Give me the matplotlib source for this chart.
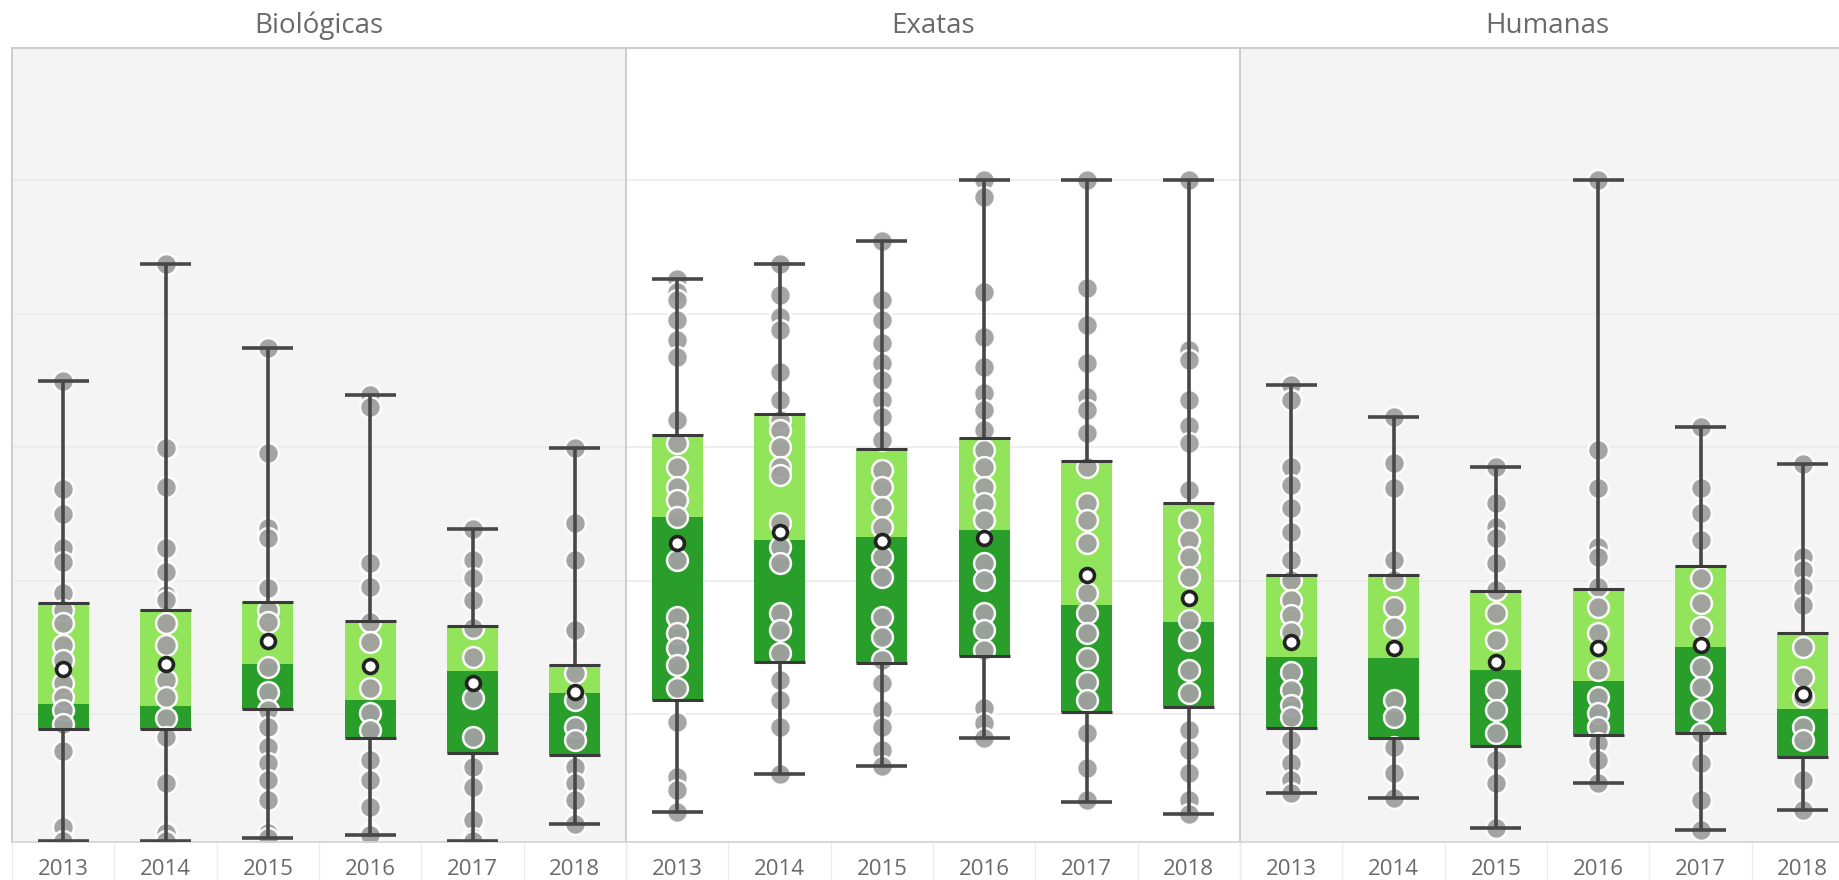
import numpy as np
import matplotlib
matplotlib.use('Agg')
import matplotlib.pyplot as plt

plt.rcParams['font.family'] = ['Open Sans', 'DejaVu Sans']

years = ['2013', '2014', '2015', '2016', '2017', '2018']
areas = ['Biológicas', 'Exatas', 'Humanas']

# box statistics per area (one value per year)
bio_low = [0.10, 0.10, 0.15, 0.19, 0.10, 0.36]
bio_q1 = [1.78, 1.78, 2.08, 1.65, 1.42, 1.39]
bio_med = [2.16, 2.13, 2.75, 2.22, 2.65, 2.32]
bio_q3 = [3.67, 3.56, 3.68, 3.40, 3.32, 2.74]
bio_high = [6.99, 8.74, 7.49, 6.78, 4.78, 5.99]
bio_mean = [2.68, 2.75, 3.10, 2.72, 2.47, 2.34]

exa_low = [0.54, 1.11, 1.23, 1.65, 0.69, 0.51]
exa_q1 = [2.22, 2.78, 2.77, 2.87, 2.04, 2.11]
exa_med = [4.96, 4.61, 4.66, 4.76, 3.64, 3.38]
exa_q3 = [6.18, 6.50, 5.97, 6.14, 5.79, 5.16]
exa_high = [8.52, 8.74, 9.09, 10.0, 10.0, 10.0]
exa_mean = [4.57, 4.73, 4.60, 4.64, 4.09, 3.74]

hum_low = [0.82, 0.75, 0.30, 0.97, 0.27, 0.57]
hum_q1 = [1.80, 1.65, 1.53, 1.69, 1.72, 1.36]
hum_med = [2.86, 2.84, 2.66, 2.50, 3.01, 2.08]
hum_q3 = [4.09, 4.09, 3.85, 3.88, 4.22, 3.22]
hum_high = [6.93, 6.45, 5.70, 10.0, 6.30, 5.75]
hum_mean = [3.08, 2.99, 2.79, 2.99, 3.04, 2.31]

# individual grades shown as grey dots
bio_points = [
    [6.99, 5.37, 5.0, 4.49, 4.28, 3.82, 3.56, 3.37, 3.04, 2.81, 2.47, 2.26, 2.07, 1.86, 1.45, 0.31, 0.10],
    [8.74, 5.99, 5.40, 4.49, 4.13, 3.79, 3.71, 3.37, 3.04, 2.51, 2.26, 1.95, 1.66, 0.97, 0.22, 0.10],
    [7.49, 5.91, 4.79, 4.64, 3.89, 3.56, 3.38, 2.71, 2.34, 2.07, 1.81, 1.51, 1.27, 1.02, 0.72, 0.22, 0.15],
    [6.78, 6.60, 4.27, 3.91, 3.38, 3.08, 2.40, 2.02, 1.77, 1.32, 1.02, 0.61, 0.22, 0.19],
    [4.78, 4.31, 4.04, 3.71, 3.29, 2.86, 2.25, 1.66, 1.21, 0.91, 0.42, 0.15, 0.10],
    [5.99, 4.87, 4.31, 3.26, 2.62, 2.22, 1.81, 1.62, 1.21, 0.97, 0.72, 0.36],
]
exa_points = [
    [8.52, 8.32, 8.20, 7.90, 7.60, 7.35, 6.41, 6.06, 5.70, 5.40, 5.21, 4.96, 4.31, 3.46, 3.22,
     2.99, 2.74, 2.40, 1.89, 1.06, 0.87, 0.54],
    [8.74, 8.28, 7.95, 7.75, 7.13, 6.71, 6.41, 6.26, 6.00, 5.70, 5.58, 4.87, 4.51, 4.27, 3.52,
     3.26, 2.92, 2.51, 2.22, 1.81, 1.11],
    [9.09, 8.20, 7.90, 7.56, 7.26, 7.01, 6.71, 6.45, 6.11, 5.66, 5.40, 5.10, 4.81, 4.36, 4.06,
     3.46, 3.16, 2.81, 2.47, 2.07, 1.81, 1.47, 1.23],
    [10.0, 9.75, 8.32, 7.65, 7.20, 6.81, 6.56, 6.26, 5.96, 5.70, 5.40, 5.16, 4.91, 4.27, 4.01,
     3.52, 3.26, 2.96, 2.10, 1.87, 1.65],
    [10.0, 8.38, 7.83, 7.26, 6.75, 6.56, 6.21, 5.70, 5.16, 4.91, 4.57, 3.82, 3.52, 3.22, 2.84,
     2.49, 2.22, 1.72, 1.20, 0.72],
    [10.0, 7.46, 7.31, 6.71, 6.31, 6.06, 5.36, 4.91, 4.61, 4.36, 4.06, 3.41, 3.11, 2.66, 2.32,
     1.77, 1.47, 1.12, 0.72, 0.51],
]
hum_points = [
    [6.93, 6.71, 5.70, 5.43, 5.09, 4.73, 4.31, 4.01, 3.71, 3.49, 3.23, 2.63, 2.37, 2.14, 1.96,
     1.62, 1.27, 1.02, 0.82],
    [6.45, 5.76, 5.39, 4.31, 4.01, 3.61, 3.31, 2.22, 1.96, 1.51, 1.12, 0.75],
    [5.70, 5.16, 4.81, 4.64, 4.27, 3.86, 3.52, 3.11, 2.37, 2.07, 1.72, 1.32, 0.97, 0.30],
    [10.0, 5.96, 5.39, 4.51, 4.36, 3.91, 3.61, 3.22, 2.66, 2.26, 2.02, 1.81, 1.57, 1.32, 0.97],
    [6.30, 5.39, 5.01, 4.61, 4.04, 3.67, 3.31, 2.71, 2.41, 2.07, 1.72, 1.27, 0.72, 0.27],
    [5.75, 4.36, 4.16, 3.91, 3.64, 3.01, 2.56, 2.26, 1.81, 1.62, 1.02, 0.57],
]

panels = [
    (bio_low, bio_q1, bio_med, bio_q3, bio_high, bio_mean, bio_points, '#f4f4f4'),
    (exa_low, exa_q1, exa_med, exa_q3, exa_high, exa_mean, exa_points, 'white'),
    (hum_low, hum_q1, hum_med, hum_q3, hum_high, hum_mean, hum_points, '#f4f4f4'),
]

light_green = '#92e55b'
dark_green = '#2a9e2a'
line_col = '#474747'
box_w = 0.5

fig = plt.figure(figsize=(18.39, 8.8), dpi=100)
W, H = 1839, 880
ax_left = [12, 626, 1240]
ax_w = 614
ax_top, ax_bot = 47.7, 842

for i, (lo, q1, med, q3, hi, mean, pts, bg) in enumerate(panels):
    ax = fig.add_axes([ax_left[i] / W, (H - ax_bot) / H, ax_w / W, (ax_bot - ax_top) / H])
    ax.set_facecolor(bg)
    x = np.arange(len(years))

    # grid
    for g in [2, 4, 6, 8, 10]:
        ax.axhline(g, color='#ebebeb', lw=1.2, zorder=0)

    # two-tone boxes
    ax.bar(x, np.array(med) - np.array(q1), bottom=q1, width=box_w, color=dark_green, zorder=1)
    ax.bar(x, np.array(q3) - np.array(med), bottom=med, width=box_w, color=light_green, zorder=1)

    # dots
    for k, p in enumerate(pts):
        ax.scatter(np.full(len(p), x[k]), p, s=225, color='#a0a0a0', edgecolors='white',
                   linewidths=1.8, alpha=0.95, zorder=2)

    # whiskers and caps
    ax.vlines(x, q3, hi, color=line_col, lw=2.6, zorder=3)
    ax.vlines(x, lo, q1, color=line_col, lw=2.6, zorder=3)
    ax.hlines(hi, x - box_w / 2, x + box_w / 2, color=line_col, lw=2.6, zorder=3)
    ax.hlines(lo, x - box_w / 2, x + box_w / 2, color=line_col, lw=2.6, zorder=3)
    ax.hlines(q3, x - box_w / 2, x + box_w / 2, color='#3a3a3a', lw=2.2, zorder=3)
    ax.hlines(q1, x - box_w / 2, x + box_w / 2, color='#3a3a3a', lw=2.2, zorder=3)

    # mean markers
    ax.scatter(x, mean, s=100, color='white', edgecolors='#222222', linewidths=2.6, zorder=5)

    ax.set_xlim(-0.5, 5.5)
    ax.set_ylim(0.09, 11.98)
    ax.set_yticks([])
    ax.set_xticks(x)
    ax.set_xticklabels(years, fontsize=16, color='#6a6a6a')
    ax.set_xticks(np.arange(-0.5, 6, 1), minor=True)
    ax.tick_params(axis='x', which='major', length=0, pad=12)
    ax.tick_params(axis='x', which='minor', length=40, color='#ececec', width=1)

    for s in ['left', 'top']:
        ax.spines[s].set_color('#c9c9c9')
        ax.spines[s].set_linewidth(1.3)
    ax.spines['bottom'].set_color('#d6d6d6')
    ax.spines['bottom'].set_linewidth(1.3)
    ax.spines['right'].set_visible(False)

    fig.text((ax_left[i] + ax_w / 2) / W, 1 - 26 / H, areas[i], ha='center', va='center',
             fontsize=20, color='#6a6a6a')

fig.savefig('out.png', dpi=100)
